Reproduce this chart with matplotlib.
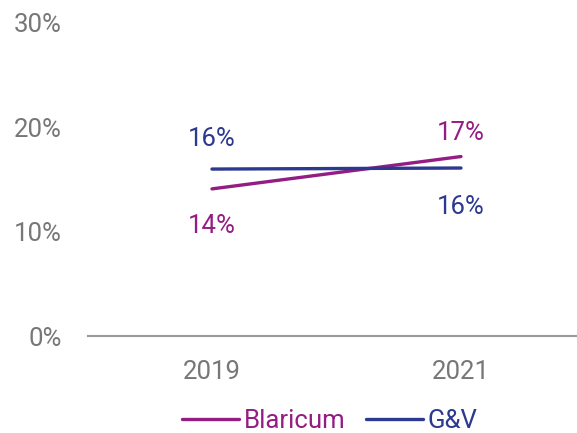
import matplotlib
matplotlib.use("Agg")
import matplotlib.pyplot as plt

years = ["2019", "2021"]
blaricum = [14.1, 17.2]
gv = [16.0, 16.1]
series_names = ["Blaricum", "G&V"]
yticks = [0, 10, 20, 30]

c_bl = "#941d83"
c_gv = "#2b3990"
gray = "#777777"

plt.rcParams['font.family'] = ['Roboto', 'DejaVu Sans']
FS = 18.5

fig = plt.figure(figsize=(5.77, 4.33), dpi=100)
ax = fig.add_axes([88/577, 1-336/433, 1-88/577, (336-23)/433])

x = list(range(len(years)))
ax.plot(x, blaricum, color=c_bl, lw=2.4, solid_capstyle='round', label=series_names[0])
ax.plot(x, gv, color=c_gv, lw=2.4, solid_capstyle='round', label=series_names[1])

ax.set_xlim(-0.498, 1.466)
ax.set_ylim(0, 30)
ax.set_yticks(yticks)
ax.set_yticklabels([f"{v}%" for v in yticks])
ax.set_xticks(x)
ax.set_xticklabels(years)
ax.tick_params(axis='both', length=0, labelsize=FS, colors=gray)
ax.tick_params(axis='y', pad=19)
ax.tick_params(axis='x', pad=17)
for s in ['top', 'right', 'left']:
    ax.spines[s].set_visible(False)
ax.spines['bottom'].set_color('#9a9a9a')
ax.spines['bottom'].set_linewidth(1.5)

# data labels
offs_bl = [-27, 17]
offs_gv = [22, -28]
for i in x:
    ax.annotate(f"{round(blaricum[i])}%", (i, blaricum[i]), xytext=(0, offs_bl[i]),
                textcoords='offset points', ha='center', va='center', fontsize=FS, color=c_bl)
    ax.annotate(f"{round(gv[i])}%", (i, gv[i]), xytext=(0, offs_gv[i]),
                textcoords='offset points', ha='center', va='center', fontsize=FS, color=c_gv)

leg = ax.legend(loc='center', bbox_to_anchor=(330/577, 1-421/433), bbox_transform=fig.transFigure,
                ncol=2, frameon=False, fontsize=FS, handlelength=2.2, handletextpad=0.2,
                columnspacing=0.8, borderaxespad=0, borderpad=0)
for txt, col in zip(leg.get_texts(), [c_bl, c_gv]):
    txt.set_color(col)

fig.savefig("out.png", dpi=100)
